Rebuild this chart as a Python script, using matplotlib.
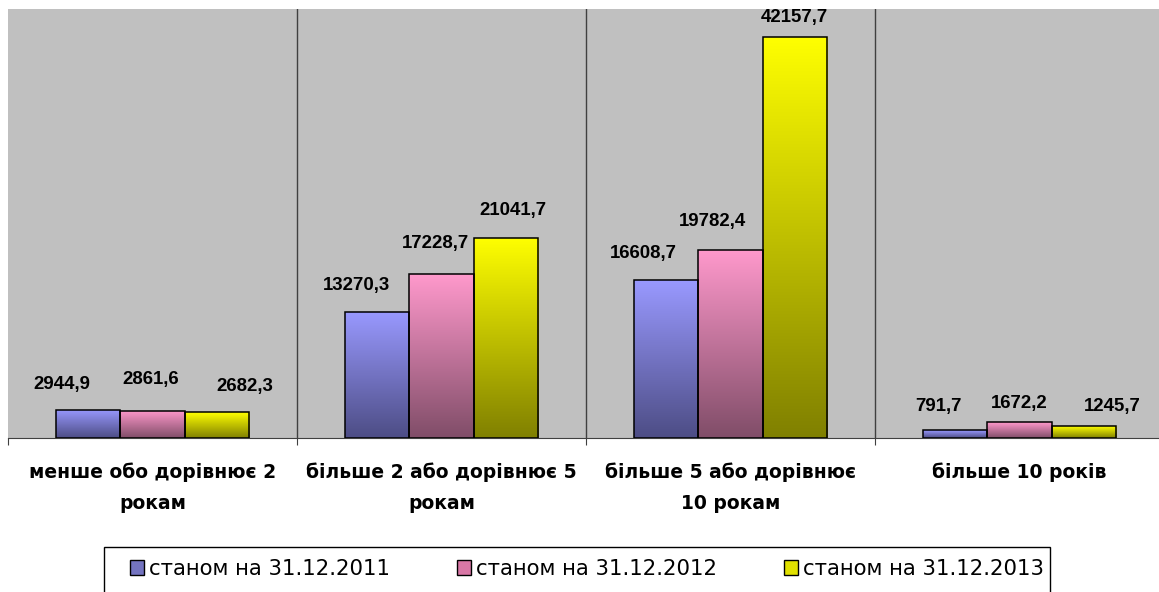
import matplotlib
matplotlib.use("Agg")
import matplotlib.pyplot as plt
import numpy as np
from matplotlib.colors import LinearSegmentedColormap
from matplotlib.patches import Rectangle, Patch

categories = ["менше обо дорівнює 2\nрокам", "більше 2 або дорівнює 5\nрокам",
              "більше 5 або дорівнює\n10 рокам", "більше 10 років"]
series_names = ["станом на 31.12.2011", "станом на 31.12.2012", "станом на 31.12.2013"]
values_2011 = [2944.9, 13270.3, 16608.7, 791.7]
values_2012 = [2861.6, 17228.7, 19782.4, 1672.2]
values_2013 = [2682.3, 21041.7, 42157.7, 1245.7]
labels_2011 = ["2944,9", "13270,3", "16608,7", "791,7"]
labels_2012 = ["2861,6", "17228,7", "19782,4", "1672,2"]
labels_2013 = ["2682,3", "21041,7", "42157,7", "1245,7"]

# label nudges (pixels) to mimic the original placement
dx_2011 = [-26, -21, -23, -17]
dx_2012 = [-2, -6, -18, 0]
dx_2013 = [28, 7, 0, 29]
dy_2011 = [21, 22, 22, 19.5]
dy_2012 = [27, 26, 24, 14]
dy_2013 = [21.5, 23, 15, 15]

top_colors = ["#9999ff", "#ff99cc", "#ffff00"]
bot_colors = ["#4d4d85", "#804d68", "#808000"]

plt.rcParams['font.family'] = ['DejaVu Sans']

fig = plt.figure(figsize=(11.59, 5.92), dpi=100)
W, H = 1159, 592
PX = 72 / 100
left, right, top, bottom = 8, 1164, 9, 438
ax = fig.add_axes([left / W, 1 - bottom / H, (right - left) / W, (bottom - top) / H])
ax.set_facecolor("#c0c0c0")

x = np.arange(len(categories))
bw = 0.222
all_vals = [values_2011, values_2012, values_2013]
all_labels = [labels_2011, labels_2012, labels_2013]
all_dx = [dx_2011, dx_2012, dx_2013]
all_dy = [dy_2011, dy_2012, dy_2013]
grad = np.linspace(0, 1, 256).reshape(-1, 1)

for i, (vals, labs) in enumerate(zip(all_vals, all_labels)):
    offs = (i - 1) * bw
    bars = ax.bar(x + offs, vals, bw, facecolor="none", edgecolor="black", linewidth=1.1, zorder=3)
    cmap = LinearSegmentedColormap.from_list(f"g{i}", [bot_colors[i], top_colors[i]])
    for j, (b, lab) in enumerate(zip(bars, labs)):
        x0, w, h = b.get_x(), b.get_width(), b.get_height()
        im = ax.imshow(grad, extent=(x0, x0 + w, 0, h), origin="lower", cmap=cmap,
                       aspect="auto", zorder=2, interpolation="bilinear")
        im.set_clip_path(Rectangle((x0, 0), w, h, transform=ax.transData))
        ax.annotate(lab, (x0 + w / 2, h), xytext=(all_dx[i][j] * PX, all_dy[i][j] * PX),
                    textcoords="offset points", ha="center", va="baseline",
                    fontsize=13.4, fontweight="bold", family="Liberation Sans")

ax.set_xlim(-0.5, 3.5)
ax.set_ylim(0, 45100)

for s in ["top", "right", "left"]:
    ax.spines[s].set_visible(False)
ax.spines["bottom"].set_color("#404040")
for xb in [0.5, 1.5, 2.5]:
    ax.axvline(xb, color="#404040", linewidth=1, zorder=1)

ax.set_yticks([])
ax.set_xticks([-0.5, 0.5, 1.5, 2.5, 3.5])
ax.set_xticklabels([])
ax.tick_params(axis="x", length=5, color="#404040", direction="out")
for xi, c in zip(x, categories):
    ax.text(xi, -0.058, c, transform=ax.get_xaxis_transform(), ha="center", va="top",
            fontsize=13.5, fontweight="bold", linespacing=1.75)

# legend
fig.patches.append(Rectangle((104 / W, 1 - 594 / H), (1050 - 104) / W, (594 - 547) / H,
                             transform=fig.transFigure, facecolor="white",
                             edgecolor="black", linewidth=1, zorder=0))
leg_handles = [Patch(facecolor=tc, edgecolor="black", linewidth=1) for tc in
               ["#7373c0", "#d977a6", "#e0e000"]]
leg = fig.legend(leg_handles, series_names, loc="center left",
                 bbox_to_anchor=(130 / W, 1 - 569 / H), ncol=3, frameon=False,
                 fontsize=15.3, handlelength=0.65, handleheight=0.65, handletextpad=0.25,
                 columnspacing=3.15, borderpad=0, borderaxespad=0)

fig.savefig("out.png", dpi=100)
